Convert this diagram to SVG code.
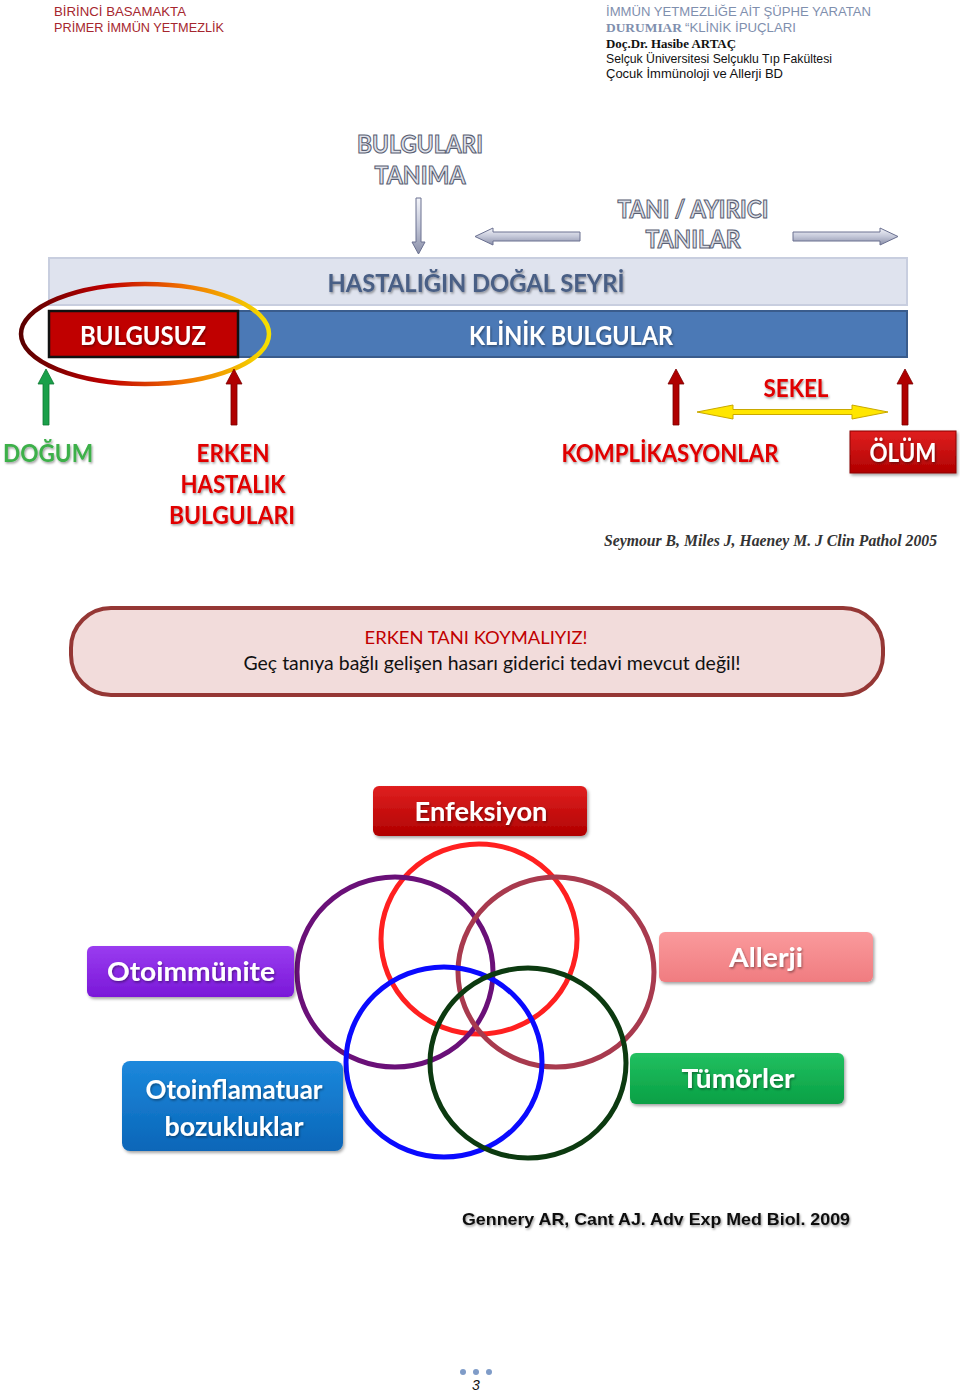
<svg xmlns="http://www.w3.org/2000/svg" width="960" height="1393" viewBox="0 0 960 1393">
<defs>
<style>
.hd{font-family:"Liberation Sans",Arial,sans-serif;font-size:13px}
.b{font-family:Lato,"Open Sans","Liberation Sans",sans-serif;font-weight:bold;text-anchor:middle}
.out{fill:#dfe2ea;stroke:#5a5f73;stroke-width:1.1px;font-size:25px}
.red{fill:#e00000;font-size:24px}
.wht{fill:#ffffff;font-size:27px}
.ring{fill:none;stroke-width:5}
.garr{fill:url(#gA);stroke:#6a7090;stroke-width:1}
</style>
<linearGradient id="ell" x1="0" y1="0" x2="1" y2="0">
<stop offset="0" stop-color="#5a0000"/><stop offset="0.35" stop-color="#c00000"/><stop offset="0.65" stop-color="#f07000"/><stop offset="1" stop-color="#f5e000"/>
</linearGradient>
<linearGradient id="gA" x1="0" y1="0" x2="0" y2="1">
<stop offset="0" stop-color="#f4f5fa"/><stop offset="0.5" stop-color="#c3c7d8"/><stop offset="1" stop-color="#8a8fa8"/>
</linearGradient>
<linearGradient id="gRed" x1="0" y1="0" x2="0" y2="1"><stop offset="0" stop-color="#e02020"/><stop offset="1" stop-color="#b00000"/></linearGradient>
<linearGradient id="gPur" x1="0" y1="0" x2="0" y2="1"><stop offset="0" stop-color="#9a3cf0"/><stop offset="1" stop-color="#7a18d8"/></linearGradient>
<linearGradient id="gPink" x1="0" y1="0" x2="0" y2="1"><stop offset="0" stop-color="#fa9a9c"/><stop offset="1" stop-color="#f07c80"/></linearGradient>
<linearGradient id="gBlue" x1="0" y1="0" x2="0" y2="1"><stop offset="0" stop-color="#1c88dc"/><stop offset="1" stop-color="#0a66b8"/></linearGradient>
<linearGradient id="gGrn" x1="0" y1="0" x2="0" y2="1"><stop offset="0" stop-color="#22c060"/><stop offset="1" stop-color="#08a045"/></linearGradient>
<filter id="sh" x="-10%" y="-10%" width="130%" height="140%"><feDropShadow dx="1.5" dy="2" stdDeviation="1.5" flood-color="#000" flood-opacity="0.35"/></filter>
<filter id="tsh" x="-5%" y="-10%" width="115%" height="140%"><feDropShadow dx="1" dy="1.5" stdDeviation="0.8" flood-color="#000" flood-opacity="0.4"/></filter>
</defs>
<rect width="960" height="1393" fill="#ffffff"/>

<g id="header">
<text class="hd" x="54" y="16" fill="#a6262e" textLength="132" lengthAdjust="spacingAndGlyphs">BİRİNCİ BASAMAKTA</text>
<text class="hd" x="54" y="32" fill="#a6262e" textLength="170" lengthAdjust="spacingAndGlyphs">PRİMER İMMÜN YETMEZLİK</text>
<text class="hd" x="606" y="16" fill="#7f8fae" textLength="265" lengthAdjust="spacingAndGlyphs">İMMÜN YETMEZLİĞE AİT ŞÜPHE YARATAN</text>
<text x="606" y="32" fill="#7f8fae" font-family="'Liberation Serif',serif" font-size="13" font-weight="bold" textLength="76" lengthAdjust="spacingAndGlyphs">DURUMIAR</text>
<text class="hd" x="685" y="32" fill="#7f8fae" textLength="111" lengthAdjust="spacingAndGlyphs">“KLİNİK İPUÇLARI</text>
<text x="606" y="48" fill="#111" font-family="'Liberation Serif',serif" font-size="12" font-weight="bold" textLength="130" lengthAdjust="spacingAndGlyphs">Doç.Dr. Hasibe ARTAÇ</text>
<text class="hd" x="606" y="63" fill="#111" font-size="12" textLength="226" lengthAdjust="spacingAndGlyphs">Selçuk Üniversitesi Selçuklu Tıp Fakültesi</text>
<text class="hd" x="606" y="78" fill="#111" font-size="12" textLength="177" lengthAdjust="spacingAndGlyphs">Çocuk İmmünoloji ve Allerji BD</text>
</g>

<g id="bars">
<rect x="49" y="258" width="858" height="47" fill="#dfe3ee" stroke="#c8cedf" stroke-width="2"/>
<text class="b" x="476" y="292" fill="#4a5f85" font-size="25" textLength="297" lengthAdjust="spacingAndGlyphs" filter="url(#tsh)">HASTALIĞIN DOĞAL SEYRİ</text>
<rect x="238" y="311" width="669" height="46" fill="#4b79b6" stroke="#3a5c8c" stroke-width="2"/>
<text class="b wht" x="571" y="345" textLength="204" lengthAdjust="spacingAndGlyphs" filter="url(#tsh)">KLİNİK BULGULAR</text>
</g>

<g id="bulgusuz">
<rect x="49" y="311" width="189" height="46" fill="#c00000" stroke="#111" stroke-width="2.5"/>
<text class="b wht" x="143" y="345" textLength="126" lengthAdjust="spacingAndGlyphs" filter="url(#tsh)">BULGUSUZ</text>
<ellipse cx="145" cy="334" rx="124" ry="50" fill="none" stroke="url(#ell)" stroke-width="4.5"/>
</g>

<g id="connectors">
<polygon class="garr" points="416,198 421,198 421,242 425,242 418.5,254 412,242 416,242"/>
<polygon class="garr" points="580,232 580,241 493,241 493,245 475,236.5 493,228 493,232"/>
<polygon class="garr" points="793,232 793,241 880,241 880,245 898,236.5 880,228 880,232"/>
<polygon points="43,425 49,425 49,384 54,384 46,369 38,384 43,384" fill="#1aa04a" stroke="#0e7a34" stroke-width="0.8"/>
<polygon points="231,425 237,425 237,384 242,384 234,369 226,384 231,384" fill="#b00000" stroke="#7a0000" stroke-width="0.8"/>
<polygon points="673,425 679,425 679,384 684,384 676,369 668,384 673,384" fill="#b00000" stroke="#7a0000" stroke-width="0.8"/>
<polygon points="902,425 908,425 908,384 913,384 905,369 897,384 902,384" fill="#b00000" stroke="#7a0000" stroke-width="0.8"/>
<polygon points="697,412 733,405 733,409.5 852,409.5 852,405 888,412 852,419 852,414.5 733,414.5 733,419" fill="#ffe600" stroke="#c9a800" stroke-width="1"/>
</g>

<g id="labels-top">
<text class="b out" x="420" y="153" textLength="126" lengthAdjust="spacingAndGlyphs">BULGULARI</text>
<text class="b out" x="420" y="184" textLength="91" lengthAdjust="spacingAndGlyphs">TANIMA</text>
<text class="b out" x="693" y="218" textLength="151" lengthAdjust="spacingAndGlyphs">TANI / AYIRICI</text>
<text class="b out" x="693" y="248" textLength="95" lengthAdjust="spacingAndGlyphs">TANILAR</text>
</g>

<g id="labels-bottom">
<text class="b" x="48" y="462" fill="#3cb04a" font-size="24" textLength="90" lengthAdjust="spacingAndGlyphs" filter="url(#tsh)">DOĞUM</text>
<text class="b red" x="233" y="462" textLength="73" lengthAdjust="spacingAndGlyphs" filter="url(#tsh)">ERKEN</text>
<text class="b red" x="233" y="493" textLength="105" lengthAdjust="spacingAndGlyphs" filter="url(#tsh)">HASTALIK</text>
<text class="b red" x="232" y="524" textLength="126" lengthAdjust="spacingAndGlyphs" filter="url(#tsh)">BULGULARI</text>
<text class="b red" x="796" y="397" textLength="65" lengthAdjust="spacingAndGlyphs" filter="url(#tsh)">SEKEL</text>
<text class="b red" x="670" y="462" textLength="217" lengthAdjust="spacingAndGlyphs" filter="url(#tsh)">KOMPLİKASYONLAR</text>
</g>

<g id="olum">
<rect x="850" y="431" width="106" height="42" fill="url(#gRed)" stroke="#8a0000" stroke-width="1" filter="url(#sh)"/>
<text class="b wht" x="903" y="462" font-size="25" textLength="67" lengthAdjust="spacingAndGlyphs" filter="url(#tsh)">ÖLÜM</text>
</g>

<text x="604" y="546" fill="#333" font-family="'Liberation Serif',serif" font-style="italic" font-weight="bold" font-size="16" textLength="333" lengthAdjust="spacingAndGlyphs">Seymour B, Miles J, Haeney M. J Clin Pathol 2005</text>

<g id="note">
<rect x="71" y="608" width="812" height="87" rx="40" fill="#f2dcdb" stroke="#953735" stroke-width="4"/>
<text x="476" y="644" text-anchor="middle" fill="#c00000" font-family="Lato,'Open Sans','Liberation Sans',sans-serif" font-size="18" textLength="223" lengthAdjust="spacingAndGlyphs">ERKEN TANI KOYMALIYIZ!</text>
<text x="492" y="670" text-anchor="middle" fill="#111" font-family="Lato,'Open Sans','Liberation Sans',sans-serif" font-size="19" textLength="497" lengthAdjust="spacingAndGlyphs">Geç tanıya bağlı gelişen hasarı giderici tedavi mevcut değil!</text>
</g>

<g id="rings">
<ellipse class="ring" cx="479" cy="939" rx="98" ry="95" stroke="#ff2020"/>
<ellipse class="ring" cx="395" cy="972" rx="98" ry="95" stroke="#6a1078"/>
<ellipse class="ring" cx="556" cy="972" rx="98" ry="95" stroke="#a83a4e"/>
<ellipse class="ring" cx="444" cy="1062" rx="98" ry="95" stroke="#0a0aff"/>
<ellipse class="ring" cx="528" cy="1063" rx="98" ry="95" stroke="#0c3a10"/>
</g>

<g id="enfeksiyon">
<rect x="373" y="786" width="214" height="50" rx="6" fill="url(#gRed)" filter="url(#sh)"/>
<text class="b wht" x="481" y="821" textLength="133" lengthAdjust="spacingAndGlyphs" filter="url(#tsh)">Enfeksiyon</text>
</g>
<g id="otoimmunite">
<rect x="87" y="946" width="207" height="51" rx="6" fill="url(#gPur)" filter="url(#sh)"/>
<text class="b wht" x="191" y="981" textLength="168" lengthAdjust="spacingAndGlyphs" filter="url(#tsh)">Otoimmünite</text>
</g>
<g id="allerji">
<rect x="659" y="932" width="214" height="50" rx="6" fill="url(#gPink)" filter="url(#sh)"/>
<text class="b wht" x="766" y="967" textLength="74" lengthAdjust="spacingAndGlyphs" filter="url(#tsh)">Allerji</text>
</g>
<g id="otoinflamatuar">
<rect x="122" y="1061" width="221" height="90" rx="8" fill="url(#gBlue)" filter="url(#sh)"/>
<text class="b wht" x="234" y="1099" textLength="177" lengthAdjust="spacingAndGlyphs" filter="url(#tsh)">Otoinflamatuar</text>
<text class="b wht" x="234" y="1136" textLength="139" lengthAdjust="spacingAndGlyphs" filter="url(#tsh)">bozukluklar</text>
</g>
<g id="tumorler">
<rect x="630" y="1053" width="214" height="51" rx="6" fill="url(#gGrn)" filter="url(#sh)"/>
<text class="b wht" x="738" y="1088" textLength="113" lengthAdjust="spacingAndGlyphs" filter="url(#tsh)">Tümörler</text>
</g>

<text x="462" y="1225" fill="#111" font-family="'Liberation Sans',Arial,sans-serif" font-weight="bold" font-size="17" textLength="388" lengthAdjust="spacingAndGlyphs" filter="url(#tsh)">Gennery AR, Cant AJ. Adv Exp Med Biol. 2009</text>

<g id="footer">
<circle cx="463" cy="1372" r="3" fill="#7f9cc8"/>
<circle cx="476" cy="1372" r="3" fill="#7f9cc8"/>
<circle cx="489" cy="1372" r="3" fill="#7f9cc8"/>
<text x="476" y="1390" text-anchor="middle" fill="#111" font-family="'Liberation Sans',sans-serif" font-style="italic" font-size="14">3</text>
</g>
</svg>
